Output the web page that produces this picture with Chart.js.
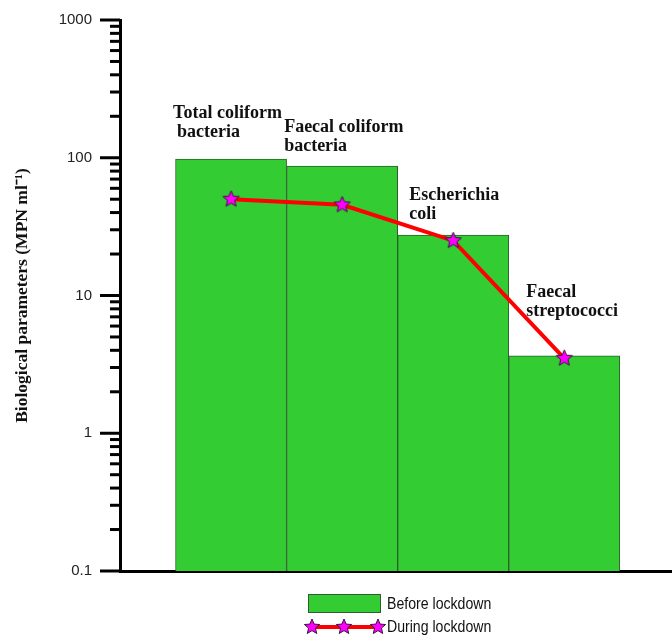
<!DOCTYPE html>
<html>
<head>
<meta charset="utf-8">
<script src="https://cdn.jsdelivr.net/npm/chart.js@4.4.1/dist/chart.umd.min.js"></script>
<style>
    html, body { margin: 0; padding: 0; background: #fff; }
    #grafico { display: block; }
</style>
</head>
<body>
<canvas id="grafico" width="672" height="636"></canvas>
<script>
const categorias = ['Total coliform bacteria', 'Faecal coliform bacteria', 'Escherichia coli', 'Faecal streptococci'];
const posicoes = [1, 2, 3, 4];
const antesLockdown = [98, 87, 27.5, 3.65];
const duranteLockdown = [50, 45.5, 25, 3.5];
const ticksY = [0.1, 1, 10, 100, 1000];
const labelsTicksY = ['0.1', '1', '10', '100', '1000'];

// rótulos escritos sobre as barras (duas linhas cada)
const linhasRotulos = [
    ['Total coliform', 'bacteria'],
    ['Faecal coliform', 'bacteria'],
    ['Escherichia', 'coli'],
    ['Faecal', 'streptococci']
];
const posRotulos = [
    { dx: -58, dx2: -54, y: 113 },
    { dx: -58, dx2: -58, y: 127 },
    { dx: -44, dx2: -44, y: 195 },
    { dx: -38, dx2: -38, y: 292 }
];

const corBarra = '#33cc33';
const corBordaBarra = '#2d5f2d';
const corLinha = '#ff0000';
const fonteSerif = '"Liberation Serif", "Times New Roman", serif';
const fonteSans = '"Liberation Sans", Arial, sans-serif';

function desenharEstrela(ctx, cx, cy, raio) {
    const interno = raio * 0.45;
    ctx.beginPath();
    for (let i = 0; i < 10; i++) {
        const r = i % 2 === 0 ? raio : interno;
        const ang = -Math.PI / 2 + i * Math.PI / 5;
        const px = cx + r * Math.cos(ang);
        const py = cy + r * Math.sin(ang);
        if (i === 0) ctx.moveTo(px, py); else ctx.lineTo(px, py);
    }
    ctx.closePath();
    ctx.fillStyle = '#ff00ff';
    ctx.fill();
    ctx.lineWidth = 1;
    ctx.strokeStyle = '#3a1040';
    ctx.stroke();
}

function criarEstrela(raio) {
    const c = document.createElement('canvas');
    const tam = Math.ceil(raio * 2 + 2);
    c.width = tam;
    c.height = tam;
    desenharEstrela(c.getContext('2d'), tam / 2, tam / 2, raio);
    return c;
}

const estrela = criarEstrela(8.5);

// texto "estreito" (a fonte narrow não existe aqui)
function textoEstreito(ctx, texto, x, y) {
    ctx.save();
    ctx.translate(x, y);
    ctx.scale(0.83, 1);
    ctx.fillText(texto, 0, 0);
    ctx.restore();
}

const pluginDesenho = {
    id: 'desenhoExtra',
    afterDraw(chart) {
        const ctx = chart.ctx;
        const yScale = chart.scales.y;
        const xScale = chart.scales.x;
        const area = chart.chartArea;
        ctx.save();

        // marcas do eixo y (maiores nas décadas)
        ctx.strokeStyle = '#000';
        ctx.lineWidth = 3;
        for (let d = 0; d < ticksY.length; d++) {
            const base = ticksY[d];
            for (let m = 1; m <= 9; m++) {
                if (d === ticksY.length - 1 && m > 1) break;
                const py = yScale.getPixelForValue(base * m);
                const len = m === 1 ? 20 : 10;
                ctx.beginPath();
                ctx.moveTo(area.left - len, py);
                ctx.lineTo(area.left, py);
                ctx.stroke();
            }
        }

        // rótulos das categorias
        ctx.fillStyle = '#111';
        ctx.font = 'bold 18px ' + fonteSerif;
        ctx.textAlign = 'left';
        ctx.textBaseline = 'middle';
        linhasRotulos.forEach((linhas, i) => {
            const cx = xScale.getPixelForValue(posicoes[i]);
            const p = posRotulos[i];
            ctx.fillText(linhas[0], cx + p.dx, p.y);
            ctx.fillText(linhas[1], cx + p.dx2, p.y + 19);
        });

        // legenda
        const lx = 308;
        const ly = area.bottom + 23;
        ctx.fillStyle = corBarra;
        ctx.fillRect(lx, ly, 73, 19);
        ctx.strokeStyle = corBordaBarra;
        ctx.lineWidth = 1;
        ctx.strokeRect(lx + 0.5, ly + 0.5, 72, 18);

        const ly2 = ly + 33;
        ctx.strokeStyle = corLinha;
        ctx.lineWidth = 4;
        ctx.beginPath();
        ctx.moveTo(lx + 4, ly2);
        ctx.lineTo(lx + 70, ly2);
        ctx.stroke();
        [lx + 4, lx + 36, lx + 70].forEach(sx => desenharEstrela(ctx, sx, ly2, 8));

        ctx.fillStyle = '#111';
        ctx.font = '17px ' + fonteSans;
        textoEstreito(ctx, 'Before lockdown', lx + 79, ly + 10);
        textoEstreito(ctx, 'During lockdown', lx + 79, ly2);

        ctx.restore();
    }
};

const ctxGrafico = document.getElementById('grafico').getContext('2d');
new Chart(ctxGrafico, {
    type: 'bar',
    data: {
        datasets: [
            {
                type: 'line',
                label: 'During lockdown',
                data: posicoes.map((x, i) => ({ x: x, y: duranteLockdown[i] })),
                borderColor: corLinha,
                borderWidth: 4,
                pointStyle: estrela,
                pointRadius: 9,
                tension: 0,
                order: 0
            },
            {
                type: 'bar',
                label: 'Before lockdown',
                data: posicoes.map((x, i) => ({ x: x, y: antesLockdown[i] })),
                backgroundColor: corBarra,
                borderColor: corBordaBarra,
                borderWidth: 1,
                barPercentage: 1,
                categoryPercentage: 1,
                order: 1
            }
        ]
    },
    options: {
        responsive: false,
        animation: false,
        layout: { autoPadding: false, padding: { top: 20, right: 0, bottom: 0, left: 0 } },
        plugins: {
            legend: { display: false },
            tooltip: { enabled: false }
        },
        scales: {
            x: {
                type: 'linear',
                min: 0,
                max: 4.97,
                offset: false,
                afterBuildTicks: (s) => { s.ticks = posicoes.map(v => ({ value: v })); },
                ticks: { display: false },
                grid: { display: false, drawTicks: false },
                border: { display: true, color: '#000', width: 3 },
                afterFit: (s) => {
                    s.height = 65;
                    s.paddingLeft = 0;
                    s.paddingRight = 0;
                }
            },
            y: {
                type: 'logarithmic',
                min: 0.1,
                max: 1000,
                afterBuildTicks: (s) => { s.ticks = ticksY.map(v => ({ value: v })); },
                ticks: {
                    callback: (v, i) => labelsTicksY[i],
                    padding: 28,
                    color: '#222',
                    font: { family: fonteSans, size: 15 }
                },
                grid: { display: false, drawTicks: false },
                border: { display: true, color: '#000', width: 3 },
                title: {
                    display: true,
                    text: 'Biological parameters (MPN ml\u207B\u00B9)',
                    color: '#111',
                    font: { family: fonteSerif, size: 17.5, weight: 'bold' },
                    padding: { top: 12, bottom: 0 }
                },
                afterFit: (s) => {
                    s.width = 120;
                    s.paddingTop = 0;
                    s.paddingBottom = 0;
                }
            }
        }
    },
    plugins: [pluginDesenho]
});
</script>
</body>
</html>
